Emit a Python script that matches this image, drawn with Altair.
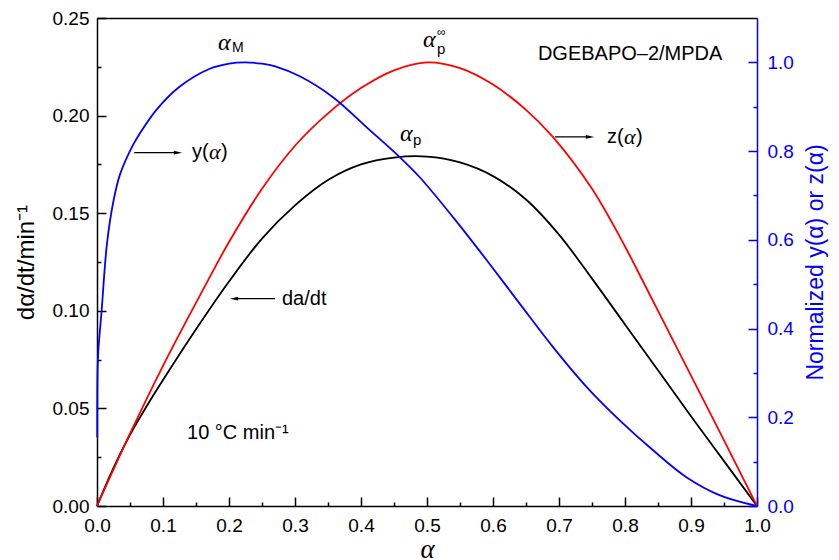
import altair as alt
import pandas as pd

# ---------------- data ----------------
# d(alpha)/dt curve (left axis, min^-1)
alpha_rate = [0.0, 0.025, 0.05, 0.075, 0.1, 0.15, 0.2, 0.25, 0.3, 0.35, 0.4, 0.45, 0.5,
              0.55, 0.6, 0.65, 0.7, 0.75, 0.8, 0.85, 0.9, 0.95, 1.0]
rate = [0.0, 0.0195, 0.0365, 0.051, 0.0645, 0.0905, 0.115, 0.137, 0.154, 0.167, 0.175, 0.1785,
        0.179, 0.176, 0.169, 0.157, 0.139, 0.1165, 0.093, 0.0695, 0.046, 0.023, 0.0]

# normalized z(alpha) (right axis)
alpha_z = [0.0, 0.05, 0.1, 0.168, 0.2, 0.25, 0.3, 0.35, 0.4, 0.45, 0.5, 0.55, 0.6,
           0.65, 0.69, 0.75, 0.8, 0.826, 0.9, 0.95, 1.0]
z_norm = [0.0, 0.163, 0.316, 0.508, 0.595, 0.715, 0.812, 0.885, 0.942, 0.982, 1.0, 0.987, 0.95,
          0.893, 0.833, 0.715, 0.585, 0.51, 0.294, 0.148, 0.0]

# normalized y(alpha) (right axis)
alpha_y = [0.0004, 0.0008, 0.002, 0.007, 0.015, 0.025, 0.035, 0.055, 0.065, 0.09, 0.125, 0.17,
           0.2, 0.224, 0.25, 0.27, 0.308, 0.358, 0.409, 0.459, 0.489, 0.54, 0.59, 0.641, 0.691,
           0.742, 0.792, 0.843, 0.893, 0.944, 1.0]
y_norm = [0.155, 0.30, 0.35, 0.44, 0.59, 0.688, 0.748, 0.815, 0.84, 0.893, 0.945, 0.985,
          0.997, 1.0, 0.997, 0.991, 0.968, 0.921, 0.853, 0.786, 0.741, 0.650, 0.555, 0.455, 0.358,
          0.268, 0.193, 0.125, 0.065, 0.024, 0.0]

# axis tick values (major + minor)
x_ticks = [0.0, 0.05, 0.1, 0.15, 0.2, 0.25, 0.3, 0.35, 0.4, 0.45, 0.5, 0.55, 0.6, 0.65,
           0.7, 0.75, 0.8, 0.85, 0.9, 0.95, 1.0]
left_ticks = [0.0, 0.025, 0.05, 0.075, 0.1, 0.125, 0.15, 0.175, 0.2, 0.225, 0.25]
right_ticks = [0.0, 0.1, 0.2, 0.3, 0.4, 0.5, 0.6, 0.7, 0.8, 0.9, 1.0]

# annotation texts (sans-serif pieces), positioned in data units (left axis)
sans_text = ["DGEBAPO–2/MPDA", "10 °C min⁻¹", "da/dt", "y(", ")", "z(", ")", "M", "p", "p", "∞"]
sans_x = [0.668, 0.1364, 0.2803, 0.1439, 0.1879, 0.7727, 0.8167, 0.2045, 0.5152, 0.4788, 0.5152]
sans_y = [0.2314, 0.0372, 0.1062, 0.1812, 0.1812, 0.1891, 0.1891, 0.2345, 0.2340, 0.1874, 0.2427]
sans_size = [20, 20, 20, 20, 20, 20, 20, 14, 15, 15, 12]

# italic alpha glyphs
alpha_x = [0.1833, 0.4939, 0.4591, 0.1697, 0.7985]
alpha_yv = [0.2373, 0.2386, 0.1907, 0.1812, 0.1891]
alpha_size = [24, 24, 24, 22, 22]

# arrows (left axis units)
arrow_x = [0.0561, 0.6939, 0.2697]
arrow_x2 = [0.1227, 0.7470, 0.2076]
arrow_y = [0.1810, 0.1891, 0.1062]
head_x = [0.1227, 0.7470, 0.2076]
head_shape = ["M-1,-0.45L1,0L-1,0.45Z", "M-1,-0.45L1,0L-1,0.45Z", "M1,-0.45L-1,0L1,0.45Z"]

# ---------------- tables ----------------
df_rate = pd.DataFrame({"alpha": alpha_rate, "value": rate})
df_norm = pd.concat([
    pd.DataFrame({"alpha": alpha_z, "value": z_norm, "series": "z"}),
    pd.DataFrame({"alpha": alpha_y, "value": y_norm, "series": "y"}),
], ignore_index=True)
df_sans = pd.DataFrame({"x": sans_x, "y": sans_y, "t": sans_text, "s": sans_size})
df_alpha = pd.DataFrame({"x": alpha_x, "y": alpha_yv, "t": ["α"] * len(alpha_x), "s": alpha_size})
df_arrow = pd.DataFrame({"x": arrow_x, "x2": arrow_x2, "y": arrow_y})
df_head = pd.DataFrame({"x": head_x, "y": arrow_y, "shape": head_shape})

X_SCALE = alt.Scale(domain=[0, 1], nice=False, zero=False)
YL_SCALE = alt.Scale(domain=[0, 0.25], nice=False, zero=False)
YR_SCALE = alt.Scale(domain=[0, 1.1], nice=False, zero=False)

FONT = "Liberation Sans"

x_axis = alt.Axis(
    orient="bottom", values=x_ticks,
    labelExpr="round(datum.value*100) % 10 == 0 ? format(datum.value, '.1f') : ''",
    labelFont=FONT, labelFontSize=19, labelColor="black", labelPadding=19,
    labelFlush=False, labelOverlap=False, labelBound=False,
    tickSize={"expr": "-9"}, tickColor="black", tickWidth=1.5,
    tickDash={"condition": {"test": "round(datum.value*100) % 10 != 0", "value": [4, 20]},
              "value": [20, 0]},
    domainColor="black", domainWidth=1.5, grid=False,
    title="α", titleFont="Liberation Serif", titleFontStyle="italic", titleFontSize=27,
    titleFontWeight="normal", titleColor="black", titlePadding=1,
)
left_axis = alt.Axis(
    orient="left", values=left_ticks,
    labelExpr="round(datum.value*1000) % 50 == 0 ? format(datum.value, '.2f') : ''",
    labelFont=FONT, labelFontSize=19, labelColor="black", labelPadding=17,
    labelFlush=False, labelOverlap=False, labelBound=False,
    tickSize={"expr": "-9"}, tickColor="black", tickWidth=1.5,
    tickDash={"condition": {"test": "round(datum.value*1000) % 50 != 0", "value": [4, 20]},
              "value": [20, 0]},
    domainColor="black", domainWidth=1.5, grid=False,
    title="dα/dt/min⁻¹", titleFont=FONT, titleFontSize=24, titleFontWeight="normal",
    titleColor="black", titlePadding=14,
)
right_axis = alt.Axis(
    orient="right", values=right_ticks,
    labelExpr="round(datum.value*10) % 2 == 0 ? format(datum.value, '.1f') : ''",
    labelFont=FONT, labelFontSize=19, labelColor="#0000ff", labelPadding=19,
    labelFlush=False, labelOverlap=False, labelBound=False,
    tickSize={"expr": "-9"}, tickColor="#0000ff", tickWidth=1.5,
    tickDash={"condition": {"test": "round(datum.value*10) % 2 != 0", "value": [4, 20]},
              "value": [20, 0]},
    domainColor="#0000ff", domainWidth=1.5, grid=False,
    title="Normalized y(α) or z(α)", titleFont=FONT, titleFontSize=23, titleFontWeight="normal",
    titleColor="#0000ff", titlePadding=11, titleAngle=270, titleBaseline="top",
)
top_axis = alt.Axis(orient="top", labels=False, ticks=False, title=None, grid=False,
                    domainColor="black", domainWidth=1.5)

# shared encodings for the left-scale group (same axis objects so they merge)
def xl(field):
    return alt.X(field, scale=X_SCALE, axis=x_axis)

def yl(field):
    return alt.Y(field, scale=YL_SCALE, axis=left_axis)

# ---------------- layers ----------------
rate_line = alt.Chart(df_rate).mark_line(color="black", strokeWidth=1.8,
                                         interpolate="catmull-rom").encode(
    x=xl("alpha:Q"), y=yl("value:Q"),
)

arrows = alt.Chart(df_arrow).mark_rule(color="black", strokeWidth=1.2).encode(
    x=xl("x:Q"), x2="x2:Q", y=yl("y:Q"),
)
heads = alt.Chart(df_head).mark_point(filled=True, color="black", opacity=1, size=70).encode(
    x=xl("x:Q"), y=yl("y:Q"),
    shape=alt.Shape("shape:N", scale=None),
)
sans = alt.Chart(df_sans).mark_text(align="left", baseline="middle", font=FONT, color="black").encode(
    x=xl("x:Q"), y=yl("y:Q"),
    text="t:N",
    size=alt.Size("s:Q", scale=None),
)
alphas = alt.Chart(df_alpha).mark_text(align="left", baseline="middle", font="Liberation Serif",
                                       fontStyle="italic", color="black").encode(
    x=xl("x:Q"), y=yl("y:Q"),
    text="t:N",
    size=alt.Size("s:Q", scale=None),
)

left_group = alt.layer(rate_line, arrows, heads, sans, alphas)

norm_lines = alt.Chart(df_norm).mark_line(strokeWidth=1.8, interpolate="catmull-rom").encode(
    x=alt.X("alpha:Q", scale=X_SCALE, axis=top_axis),
    y=alt.Y("value:Q", scale=YR_SCALE, axis=right_axis),
    color=alt.Color("series:N", scale=alt.Scale(domain=["z", "y"], range=["#ff0000", "#0000ff"]),
                    legend=None),
)

chart = alt.layer(left_group, norm_lines).resolve_scale(
    y="independent"
).resolve_axis(
    x="independent", y="independent"
).properties(
    width=660, height=488,
    autosize=alt.AutoSizeParams(type="none"),
    padding={"left": 89, "top": 10, "right": 74, "bottom": 54},
).configure_view(stroke=None).configure(font=FONT)

chart.save("out.html", embed_options={"renderer": "svg", "actions": False})
